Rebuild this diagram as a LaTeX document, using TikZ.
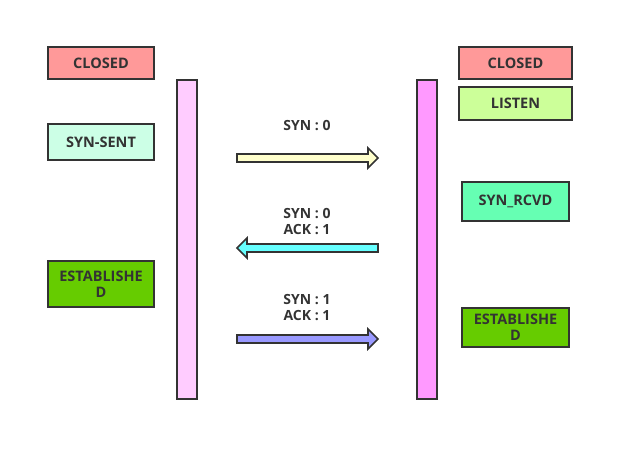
\documentclass[tikz,border=0pt]{standalone}
\usepackage{fontspec}
\setmainfont{Open Sans}
\definecolor{edgegray}{HTML}{333333}
\definecolor{closedred}{HTML}{FF9999}
\definecolor{sentmint}{HTML}{CCFFE6}
\definecolor{estgreen}{HTML}{66CC00}
\definecolor{listenlime}{HTML}{CCFF99}
\definecolor{rcvdmint}{HTML}{66FFB3}
\definecolor{clientbar}{HTML}{FFCCFF}
\definecolor{serverbar}{HTML}{FF99FF}
\definecolor{synyellow}{HTML}{FFFFCC}
\definecolor{ackcyan}{HTML}{66FFFF}
\definecolor{finblue}{HTML}{9999FF}
\tikzset{
  state/.style={draw=edgegray, line width=2pt, inner sep=0pt,
    text=edgegray, font=\fontsize{14.5}{16}\selectfont\bfseries, align=center},
  lifeline/.style={draw=edgegray, line width=2pt, inner sep=0pt,
    minimum width=20pt, minimum height=319pt},
  msg/.style={text=edgegray, font=\fontsize{14}{16}\selectfont\bfseries, align=center},
  fatarrow/.pic={
    \filldraw[draw=edgegray, line width=1.6pt, line join=miter]
      (0,-4) -- (131,-4) -- (131,-10) -- (141,0) -- (131,10) -- (131,4) -- (0,4) -- cycle;
  }
}
\begin{document}
\begin{tikzpicture}[x=1pt,y=-1pt]
  \useasboundingbox (0,0) rectangle (634,461);
  % client side
  \node[state, fill=closedred, minimum width=106pt, minimum height=32pt] (cclosed) at (101,63) {CLOSED};
  \node[state, fill=sentmint, minimum width=106pt, minimum height=36pt] (csent) at (101,142) {SYN-SENT};
  \node[state, fill=estgreen, minimum width=106pt, minimum height=46pt] (cest) at (101,284) {ESTABLISHE\\D};
  \node[lifeline, fill=clientbar] (client) at (187,239.5) {};
  % server side
  \node[lifeline, fill=serverbar] (server) at (427,239.5) {};
  \node[state, fill=closedred, minimum width=113pt, minimum height=32pt] (sclosed) at (515.5,63) {CLOSED};
  \node[state, fill=listenlime, minimum width=113pt, minimum height=33pt] (slisten) at (515.5,103.5) {LISTEN};
  \node[state, fill=rcvdmint, minimum width=107pt, minimum height=39pt] (srcvd) at (515.5,201.5) {SYN\_RCVD};
  \node[state, fill=estgreen, minimum width=107pt, minimum height=39pt] (sest) at (515.5,327.5) {ESTABLISHE\\D};
  % handshake
  \coordinate (syn) at (237,158);
  \coordinate (synack) at (378,248);
  \coordinate (ack) at (237,339);
  \pic[fill=synyellow] at (syn) {fatarrow};
  \pic[fill=ackcyan, xscale=-1] at (synack) {fatarrow};
  \pic[fill=finblue] at (ack) {fatarrow};
  \node[msg] (synlbl) at (307,126) {SYN : 0};
  \node[msg] (synacklbl) at (307,222) {SYN : 0\\ACK : 1};
  \node[msg] (acklbl) at (307,308) {SYN : 1\\ACK : 1};
\end{tikzpicture}
\end{document}
